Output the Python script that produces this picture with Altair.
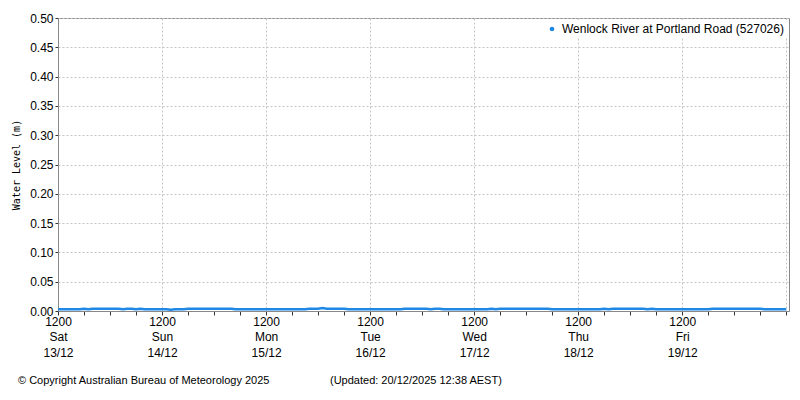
import altair as alt
import pandas as pd

SERIES = "Wenlock River at Portland Road (527026)"
START = "2025-12-13T12:00:00"

# hourly water level readings (m), 13/12 12:00 -> 20/12 12:00
day1 = [0.003,0.003,0.003,0.003,0.003,0.003,0.004,0.003,0.004,0.004,0.004,0.004,
        0.004,0.004,0.004,0.003,0.004,0.004,0.003,0.004,0.003,0.003,0.003,0.003]
day2 = [0.003,0.003,0.002,0.003,0.003,0.003,0.004,0.004,0.004,0.004,0.004,0.004,
        0.004,0.004,0.004,0.004,0.004,0.003,0.003,0.003,0.003,0.003,0.003,0.003]
day3 = [0.003,0.003,0.003,0.003,0.003,0.003,0.003,0.003,0.003,0.003,0.004,0.004,
        0.004,0.005,0.004,0.004,0.004,0.004,0.004,0.003,0.003,0.003,0.003,0.003]
day4 = [0.003,0.003,0.003,0.003,0.003,0.003,0.003,0.003,0.004,0.004,0.004,0.004,
        0.004,0.004,0.003,0.004,0.004,0.003,0.003,0.003,0.003,0.003,0.003,0.003]
day5 = [0.003,0.003,0.003,0.003,0.004,0.003,0.004,0.004,0.004,0.004,0.004,0.004,
        0.004,0.004,0.004,0.004,0.004,0.004,0.003,0.003,0.003,0.003,0.003,0.003]
day6 = [0.003,0.003,0.003,0.003,0.003,0.003,0.004,0.003,0.004,0.004,0.004,0.004,
        0.004,0.004,0.004,0.004,0.003,0.004,0.003,0.003,0.003,0.003,0.003,0.003]
day7 = [0.003,0.003,0.003,0.003,0.003,0.003,0.003,0.004,0.004,0.004,0.004,0.004,
        0.004,0.004,0.004,0.004,0.004,0.004,0.004,0.003,0.003,0.003,0.003,0.003]
last = [0.003]
levels = day1 + day2 + day3 + day4 + day5 + day6 + day7 + last

y_ticks = [0.0, 0.05, 0.1, 0.15, 0.2, 0.25, 0.3, 0.35, 0.4, 0.45, 0.5]
copyright_text = "© Copyright Australian Bureau of Meteorology 2025"
updated_text = "(Updated: 20/12/2025 12:38 AEST)"

times = pd.date_range(START, periods=len(levels), freq="h")
df = pd.DataFrame({"time": times, "level": levels, "series": SERIES})

tick_times = pd.date_range(START, "2025-12-20T12:00:00", freq="6h")
tick_vals = [alt.DateTime(year=t.year, month=t.month, date=t.day, hours=t.hour) for t in tick_times]

W, H = 731, 293

line = alt.Chart(df).mark_line(strokeWidth=2.5, interpolate="linear").encode(
    x=alt.X("time:T",
            scale=alt.Scale(domain=[alt.DateTime(year=2025, month=12, date=13, hours=12),
                                    alt.DateTime(year=2025, month=12, date=20, hours=12, minutes=38)]),
            axis=alt.Axis(
                title=None,
                values=tick_vals,
                labelExpr="hours(datum.value) == 12 && date(datum.value) != 20 ? [timeFormat(datum.value, '%H%M'), timeFormat(datum.value, '%a'), timeFormat(datum.value, '%d/%m')] : ''",
                labelFont="Liberation Sans", labelFontSize=12, labelColor="#000",
                labelLineHeight=15.5, labelPadding=1, labelAngle=0,
                labelOverlap=False, labelFlush=False,
                tickSize=4, tickColor="#333", domainColor="#888",
                grid=True, gridDash=[2, 2], gridColor="#c4c4c4",
                gridOpacity={"condition": {"test": "hours(datum.value) == 12", "value": 1}, "value": 0},
            )),
    y=alt.Y("level:Q",
            scale=alt.Scale(domain=[0, 0.5], nice=False),
            axis=alt.Axis(
                title="Water Level (m)", titleFont="DejaVu Sans Mono", titleFontSize=10,
                titleFontWeight="normal", titleColor="#000", titlePadding=8,
                values=y_ticks, format=".2f",
                labelFont="Liberation Sans", labelFontSize=12, labelColor="#000", labelPadding=2,
                tickSize=3, tickColor="#333", domainColor="#888",
                grid=True, gridDash=[2, 2], gridColor="#c4c4c4",
            )),
    color=alt.Color("series:N",
                    scale=alt.Scale(range=["#1f87e5"]),
                    legend=alt.Legend(
                        title=None, orient="top-right", offset=2,
                        symbolType="circle", symbolSize=22, symbolFillColor="#1f87e5",
                        symbolStrokeWidth=0, labelFont="Liberation Sans", labelFontSize=12,
                        labelColor="#000", labelLimit=0, fillColor="white", padding=3,
                    )),
)

foot1 = alt.Chart(pd.DataFrame({"t": [copyright_text]})).mark_text(
    align="left", baseline="alphabetic", font="Liberation Sans", fontSize=11, color="#000"
).encode(text="t:N", x=alt.value(-40), y=alt.value(H + 73))

foot2 = alt.Chart(pd.DataFrame({"t": [updated_text]})).mark_text(
    align="left", baseline="alphabetic", font="Liberation Sans", fontSize=11, color="#000"
).encode(text="t:N", x=alt.value(272), y=alt.value(H + 73))

chart = alt.layer(line, foot1, foot2).properties(
    width=W, height=H,
    autosize=alt.AutoSizeParams(type="none"),
    padding={"left": 50, "top": 10, "right": 3, "bottom": 80},
    background="white",
).configure_view(stroke="#888", strokeWidth=1)

chart.save("out.html", embed_options={"renderer": "svg", "actions": False})
